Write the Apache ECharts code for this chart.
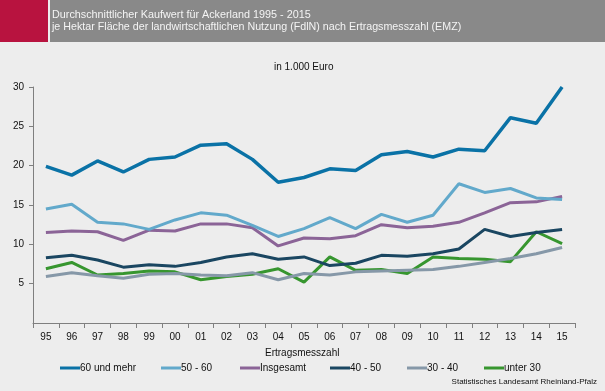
<!DOCTYPE html>
<html><head><meta charset="utf-8">
<script src="https://cdn.jsdelivr.net/npm/echarts@6/dist/echarts.min.js"></script>
<style>html,body{margin:0;padding:0;background:#ededed;}#c{width:605px;height:391px;}</style>
</head><body><div id="c"></div>
<script>
const years = ['95','96','97','98','99','00','01','02','03','04','05','06','07','08','09','10','11','12','13','14','15'];
const yTicks = [5,10,15,20,25,30];
const s60plus   = [19.9,18.8,20.6,19.2,20.8,21.1,22.6,22.8,20.8,17.9,18.5,19.6,19.4,21.4,21.8,21.1,22.1,21.9,26.1,25.4,30.0];
const s50_60    = [14.5,15.1,12.8,12.6,11.9,13.1,14.0,13.7,12.4,11.0,12.0,13.4,12.0,13.8,12.8,13.7,17.7,16.6,17.1,15.9,15.7];
const sTotal    = [11.5,11.7,11.6,10.5,11.8,11.7,12.6,12.6,12.1,9.8,10.8,10.7,11.1,12.5,12.1,12.3,12.8,14.0,15.3,15.4,16.1];
const s40_50    = [8.3,8.6,8.0,7.1,7.4,7.2,7.7,8.4,8.8,8.1,8.4,7.3,7.6,8.6,8.5,8.8,9.4,11.9,11.0,11.5,11.9];
const s30_40    = [5.9,6.4,6.0,5.7,6.2,6.3,6.1,6.0,6.4,5.5,6.3,6.1,6.5,6.6,6.7,6.8,7.2,7.7,8.2,8.8,9.6];
const sUnder30  = [6.9,7.7,6.1,6.3,6.6,6.5,5.5,5.9,6.2,6.9,5.2,8.4,6.7,6.8,6.3,8.4,8.2,8.1,7.8,11.6,10.1];
const seriesNames = ['60 und mehr','50 - 60','Insgesamt','40 - 50','30 - 40','unter 30'];
const seriesData = [s60plus,s50_60,sTotal,s40_50,s30_40,sUnder30];
const colors = ['#0a72a6','#62a9cb','#8b6497','#1a4661','#8698a8','#37962f'];
const legendLeft = [60,161,240,330,407,484];

const chart = echarts.init(document.getElementById('c'), null, {renderer:'canvas'});
const font = 'Liberation Sans, Arial, sans-serif';
chart.setOption({
  backgroundColor:'#ededed',
  animation:false,
  textStyle:{fontFamily:font},
  graphic:[
    {type:'rect', left:0, top:0, shape:{width:48, height:42}, style:{fill:'#b8133f'}},
    {type:'rect', left:50, top:0, shape:{width:555, height:42}, style:{fill:'#898989'}},
    {type:'text', left:52, top:10, style:{text:'Durchschnittlicher Kaufwert für Ackerland 1995 - 2015', fill:'#f4f4f4', font:'10.8px '+font}},
    {type:'text', left:52, top:22, style:{text:'je Hektar Fläche der landwirtschaftlichen Nutzung (FdlN) nach Ertragsmesszahl (EMZ)', fill:'#f4f4f4', font:'10.7px '+font}},
    {type:'text', left:274, top:62, style:{text:'in 1.000 Euro', fill:'#111', font:'10px '+font}},
    {type:'text', left:265, top:348, style:{text:'Ertragsmesszahl', fill:'#111', font:'10px '+font}},
    {type:'text', right:8, top:378, style:{text:'Statistisches Landesamt Rheinland-Pfalz', fill:'#111', font:'8px '+font}}
  ],
  legend: seriesNames.map((n,i)=>({
    data:[n], left:legendLeft[i], top:363, padding:0, itemWidth:20, itemHeight:3, itemGap:0,
    icon:'rect', textStyle:{fontSize:10, color:'#111', padding:[0,0,0,-5], fontFamily:font}, selectedMode:false
  })),
  grid:{left:33, right:30, top:87, bottom:68},
  xAxis:{
    type:'category', data:years, boundaryGap:true,
    axisLine:{lineStyle:{color:'#7f7f7f', width:1}},
    axisTick:{show:true, length:5, alignWithLabel:false, lineStyle:{color:'#7f7f7f'}},
    axisLabel:{color:'#111', fontSize:10, margin:9, interval:0}
  },
  yAxis:{
    type:'value', min:0, max:30, interval:5,
    axisLine:{show:true, lineStyle:{color:'#7f7f7f'}},
    axisTick:{show:true, length:4, lineStyle:{color:'#7f7f7f'}},
    axisLabel:{color:'#111', fontSize:10, margin:9, showMinLabel:false},
    splitLine:{show:false}
  },
  series: seriesNames.map((n,i)=>({
    name:n, type:'line', data:seriesData[i], symbol:'none',
    lineStyle:{color:colors[i], width: i===0?3.5:3}, itemStyle:{color:colors[i]}, z: 10-i
  }))
});
</script></body></html>
